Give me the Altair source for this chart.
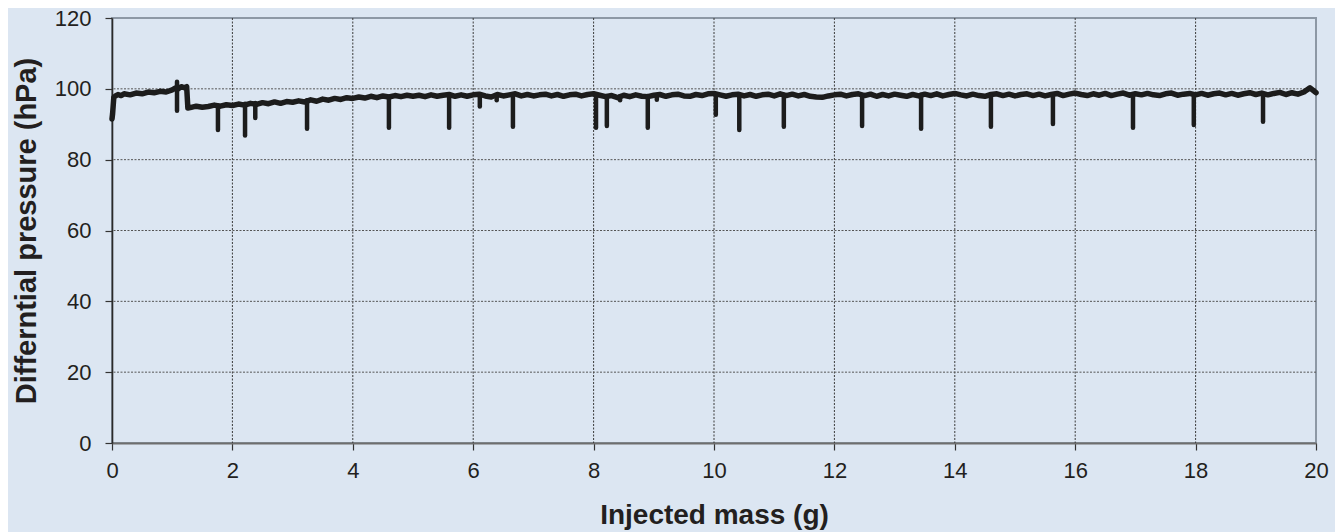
import altair as alt
import numpy as np
import pandas as pd

# ---- data ----
# start-up and first plateau (before the step at ~1.25 g)
START_MASS = [0.0, 0.01, 0.03, 0.06, 0.1, 0.15, 0.2, 0.3, 0.4, 0.5, 0.6, 0.7, 0.8, 0.9, 1.0, 1.05, 1.1, 1.15, 1.2, 1.24]
START_P = [91.5, 93.0, 97.6, 98.0, 98.4, 98.1, 98.6, 98.3, 98.8, 98.6, 99.1, 98.9, 99.3, 99.1, 99.7, 100.2, 100.0, 100.6, 100.3, 100.6]

# after the step, sampled every 0.1 g from 1.3 g to 20.0 g
STEP_MASS = [1.26]
STEP_P = [94.6]
BASE_P = [
    94.7, 95.1, 94.8, 95.0, 95.4, 95.1, 95.5, 95.3,
    95.7, 95.4, 95.9, 95.6, 96.1, 95.8, 96.3, 95.9, 96.4, 96.2,
    96.6, 96.3, 96.9, 96.5, 97.1, 96.8, 97.3, 97.0, 97.5, 97.3,
    97.7, 97.4, 97.9, 97.5, 98.0, 97.7, 98.1, 97.8, 98.2, 97.9,
    98.2, 97.8, 98.3, 97.9, 98.2, 98.4, 97.9, 98.3, 97.9, 98.3,
    98.5, 98.0, 97.7, 98.4, 98.0, 98.3, 98.6, 98.0, 98.4, 98.0,
    98.3, 98.5, 98.0, 98.4, 97.9, 98.3, 98.5, 98.0, 98.4, 98.6,
    98.2, 97.8, 98.1, 97.5, 98.2, 97.8, 98.3, 97.9, 97.8, 98.2,
    98.4, 97.9, 98.3, 98.5, 98.0, 97.9, 98.4, 98.1, 98.6, 98.7,
    98.3, 97.9, 98.3, 98.5, 98.0, 98.4, 97.9, 98.3, 98.5, 98.0,
    98.6, 98.1, 98.5, 98.0, 98.4, 97.9, 97.7, 97.6, 98.0, 98.3,
    98.5, 98.0, 98.4, 98.6, 98.1, 98.5, 97.9, 98.4, 98.0, 98.5,
    98.2, 97.9, 98.4, 98.0, 98.5, 98.1, 98.6, 98.0, 98.4, 98.7,
    98.3, 98.0, 98.5, 98.1, 97.9, 98.4, 98.6, 98.1, 98.5, 98.0,
    98.4, 98.6, 98.1, 98.5, 98.0, 98.4, 98.7, 98.1, 98.5, 98.8,
    98.4, 98.1, 98.6, 98.2, 98.7, 98.1, 98.5, 98.8, 98.2, 98.6,
    98.3, 98.7, 98.3, 98.1, 98.6, 98.8, 98.2, 98.5, 98.7, 98.3,
    98.7, 98.2, 98.6, 98.8, 98.3, 98.7, 98.2, 98.6, 98.9, 98.4,
    98.8, 98.3, 98.7, 99.0, 98.4, 98.9, 98.5, 99.1, 100.3, 98.9,
]
BASE_MASS = list(np.round(np.arange(1.3, 20.001, 0.1), 1))
assert len(BASE_MASS) == len(BASE_P)

# downward spikes: position, level at top, lowest reading
SPIKE_MASS = [1.08, 1.76, 2.21, 2.38, 3.24, 4.60, 5.60, 6.11, 6.39, 6.66, 8.04, 8.22, 8.44,
              8.90, 9.05, 10.03, 10.42, 11.16, 12.46, 13.44, 14.60, 15.63, 16.96, 17.97, 19.12]
SPIKE_TOP = [102.0, 95.3, 95.8, 96.0, 96.8, 97.7, 98.0, 98.2, 98.1, 98.2, 98.4, 98.0, 98.0,
             98.0, 98.0, 98.3, 98.3, 98.3, 98.2, 98.3, 98.3, 98.3, 98.4, 98.4, 98.5]
SPIKE_LOW = [93.8, 88.4, 86.8, 91.8, 88.7, 89.0, 89.0, 95.0, 96.8, 89.3, 89.0, 89.5, 96.8,
             89.0, 96.9, 92.7, 88.4, 89.3, 89.5, 88.7, 89.3, 90.1, 89.0, 89.8, 90.7]

X_TICKS = [0, 2, 4, 6, 8, 10, 12, 14, 16, 18, 20]
Y_TICKS = [0, 20, 40, 60, 80, 100, 120]
X_GRID = [2, 4, 6, 8, 10, 12, 14, 16, 18]
Y_GRID = [20, 40, 60, 80, 100]

BG = "#dce6f2"
INK = "#1c1c1c"
FONT = "Liberation Sans"

line_df = pd.DataFrame({
    "mass": START_MASS + STEP_MASS + BASE_MASS,
    "p": START_P + STEP_P + BASE_P,
})
line_df["order"] = range(len(line_df))
spike_df = pd.DataFrame({"mass": SPIKE_MASS, "top": SPIKE_TOP, "low": SPIKE_LOW})
xg_df = pd.DataFrame({"v": X_GRID})
yg_df = pd.DataFrame({"v": Y_GRID})

xscale = alt.Scale(domain=[0, 20], nice=False, zero=False)
yscale = alt.Scale(domain=[0, 120], nice=False)

xaxis = alt.Axis(values=X_TICKS, grid=False, format="d", title="Injected mass (g)", labelFlush=False,
                 domainColor="#6e6e6e", domainWidth=2, tickColor="#333333", tickSize=7, tickWidth=1.2,
                 labelFontSize=22, labelColor="#231f20", labelPadding=10, labelFont=FONT,
                 titleFont=FONT, titleFontSize=28, titleFontWeight="bold", titleColor="#231f20",
                 titleBaseline="alphabetic", titleY=80)
yaxis = alt.Axis(values=Y_TICKS, grid=False, format="d", title="Differntial pressure (hPa)", labelFlush=False,
                 domainColor="#2a2a2a", domainWidth=1.6, tickColor="#333333", tickSize=7, tickWidth=1.2,
                 labelFontSize=22, labelColor="#231f20", labelPadding=14, labelFont=FONT,
                 titleFont=FONT, titleFontSize=29, titleFontWeight="bold", titleColor="#231f20",
                 titleBaseline="alphabetic", titleX=-77)

xgrid = alt.Chart(xg_df).mark_rule(color="#3a3a3a", strokeWidth=1, strokeDash=[2, 1.5]).encode(
    x=alt.X("v:Q", scale=xscale, axis=xaxis))
ygrid = alt.Chart(yg_df).mark_rule(color="#555555", strokeWidth=1, strokeDash=[2, 1.5]).encode(
    y=alt.Y("v:Q", scale=yscale, axis=yaxis))

line = alt.Chart(line_df).mark_line(color=INK, strokeWidth=5.5, strokeJoin="round", strokeCap="round").encode(
    x=alt.X("mass:Q", scale=xscale),
    y=alt.Y("p:Q", scale=yscale),
    order="order:Q",
)
spikes = alt.Chart(spike_df).mark_rule(color=INK, strokeWidth=4.5, strokeCap="round").encode(
    x=alt.X("mass:Q", scale=xscale),
    y=alt.Y("top:Q", scale=yscale),
    y2="low:Q",
)

chart = alt.layer(xgrid, ygrid, line, spikes).properties(
    width=1204, height=425,
    autosize="none",
    padding={"left": 104, "top": 10, "right": 19, "bottom": 89},
    background=BG,
).configure_view(
    fill=BG, stroke="#8d98a5", strokeWidth=2,
)

chart.save("out.html", embed_options={"renderer": "svg", "actions": False})
